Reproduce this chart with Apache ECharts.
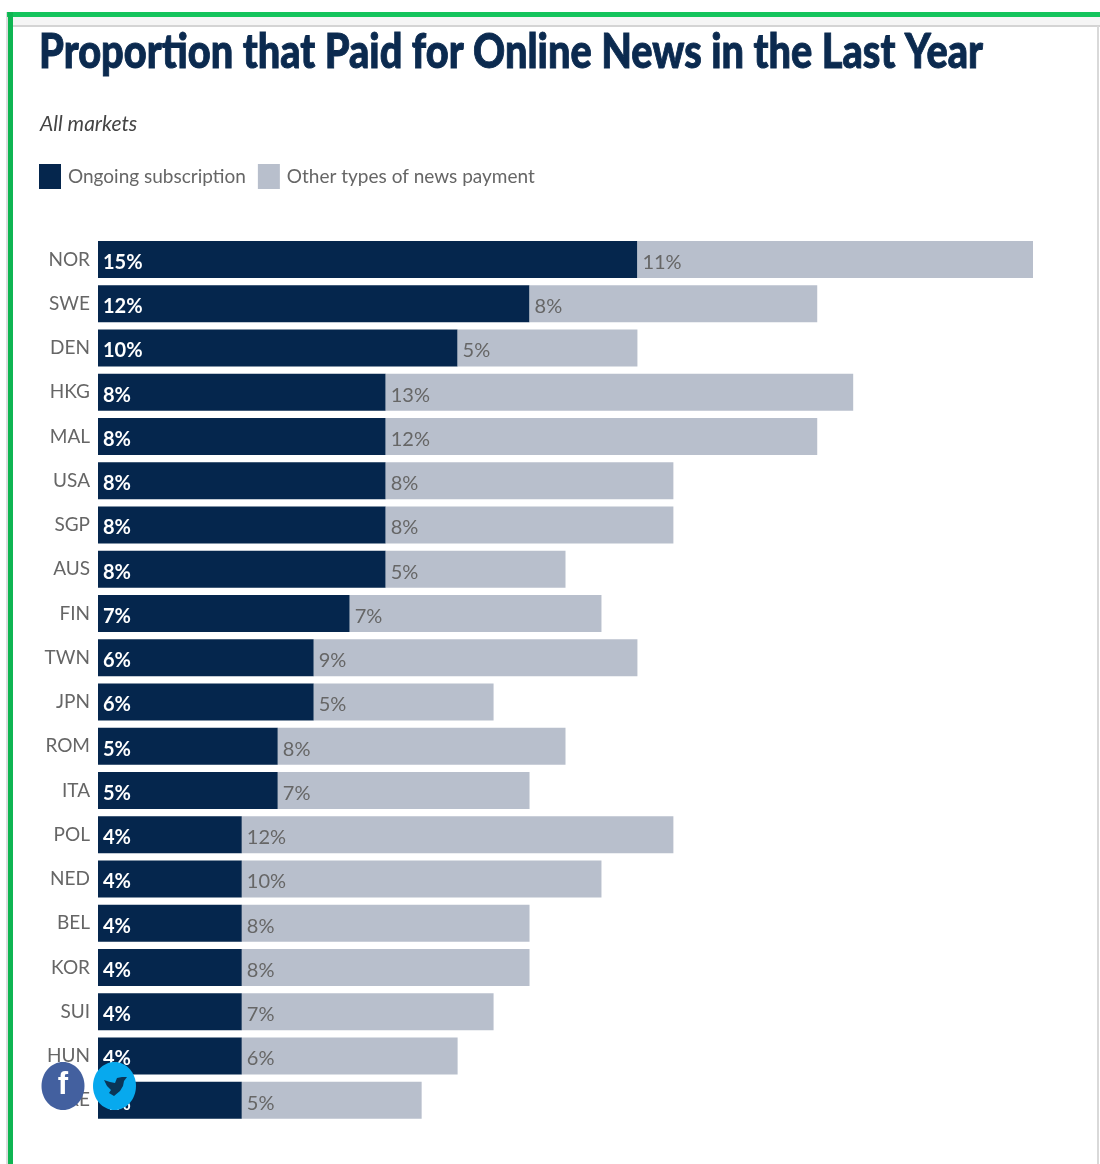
<!DOCTYPE html>
<html><head><meta charset="utf-8">
<style>html,body{margin:0;padding:0;background:#fff}#c{width:1100px;height:1164px}</style>
<script src="https://cdn.jsdelivr.net/npm/echarts@6/dist/echarts.min.js"></script>
</head><body><div id="c"></div>
<script>
const categories=['NOR','SWE','DEN','HKG','MAL','USA','SGP','AUS','FIN','TWN','JPN','ROM','ITA','POL','NED','BEL','KOR','SUI','HUN','IRE'];
const ongoing=[15,12,10,8,8,8,8,8,7,6,6,5,5,4,4,4,4,4,4,4];
const other=[11,8,5,13,12,8,8,5,7,9,5,8,7,12,10,8,8,7,6,5];
const seriesNames=['Ongoing subscription','Other types of news payment'];
const titleText='Proportion that Paid for Online News in the Last Year';
const subtitleText='All markets';
const FONT='Lato';
const chart=echarts.init(document.getElementById('c'),null,{renderer:'canvas'});
chart.setOption({
  animation:false,
  backgroundColor:'#fff',
  title:[
    {text:subtitleText,left:35,top:109,textStyle:{fontFamily:FONT,fontStyle:'italic',fontWeight:'normal',fontSize:21,color:'#444'}}
  ],
  legend:{left:39,top:164,itemWidth:22,itemHeight:25,itemGap:12,padding:0,
    icon:'rect',data:seriesNames,selectedMode:false,
    textStyle:{fontFamily:FONT,fontSize:19,color:'#666',padding:[0,0,0,2]}},
  grid:{left:98,top:237.4,width:935,height:885},
  xAxis:{type:'value',min:0,max:26,show:false},
  yAxis:{type:'category',inverse:true,data:categories,
    axisLine:{show:false},axisTick:{show:false},
    axisLabel:{fontFamily:FONT,fontSize:19,color:'#666',margin:8}},
  series:[
    {name:seriesNames[0],type:'bar',stack:'t',data:ongoing,barWidth:37,itemStyle:{color:'#05264d'},
     label:{show:true,position:'insideLeft',distance:5,offset:[0,3],formatter:'{c}%',fontFamily:FONT,fontWeight:'bold',fontSize:20,color:'#fff'}},
    {name:seriesNames[1],type:'bar',stack:'t',data:other,barWidth:37,itemStyle:{color:'#b8bfcc'},
     label:{show:true,position:'insideLeft',distance:5,offset:[0,3],formatter:'{c}%',fontFamily:FONT,fontSize:20,color:'#666'}}
  ],
  graphic:[
    {type:'text',silent:true,x:39,y:53,scaleX:0.883,scaleY:1.05,style:{text:titleText,align:'left',verticalAlign:'middle',fontFamily:FONT,fontWeight:900,fontSize:45,fill:'#0b2a4f',stroke:'#0b2a4f',lineWidth:0.9}},
    {type:'rect',silent:true,z:-1,shape:{x:12,y:16,width:1088,height:10},style:{fill:'#f5f5f5'}},
    {type:'rect',silent:true,z:-1,shape:{x:12,y:25,width:1088,height:2},style:{fill:'#d4d4d4'}},
    {type:'rect',silent:true,z:-1,shape:{x:1097,y:26,width:2,height:1138},style:{fill:'#d9d9d9'}},
    {type:'rect',silent:true,shape:{x:6,y:12,width:2,height:1152},style:{fill:'#dddddd'}},
    {type:'rect',silent:true,shape:{x:7,y:12,width:1093,height:5},style:{fill:'#14c45c'}},
    {type:'rect',silent:true,shape:{x:8,y:12,width:5,height:1152},style:{fill:'#0fb552'}},
    {type:'ellipse',silent:true,z:50,shape:{cx:63,cy:1086,rx:21.5,ry:24},style:{fill:'#43609f'}},
    {type:'text',silent:true,z:51,style:{text:'f',x:63,y:1085,align:'center',verticalAlign:'middle',fontFamily:'Liberation Sans',fontWeight:'bold',fontSize:31,fill:'#fff'}},
    {type:'ellipse',silent:true,z:50,shape:{cx:114.5,cy:1086,rx:21.5,ry:24},style:{fill:'#07a9ee'}},
    {type:'polygon',silent:true,z:51,shape:{points:[[104,1080],[110,1082],[115,1083],[117,1078],[122,1077],[127,1077],[124,1081],[123,1086],[120,1091],[114,1096],[109,1093],[111,1090],[107,1086]]},style:{fill:'#0a3557'}}
  ]
});
</script></body></html>
